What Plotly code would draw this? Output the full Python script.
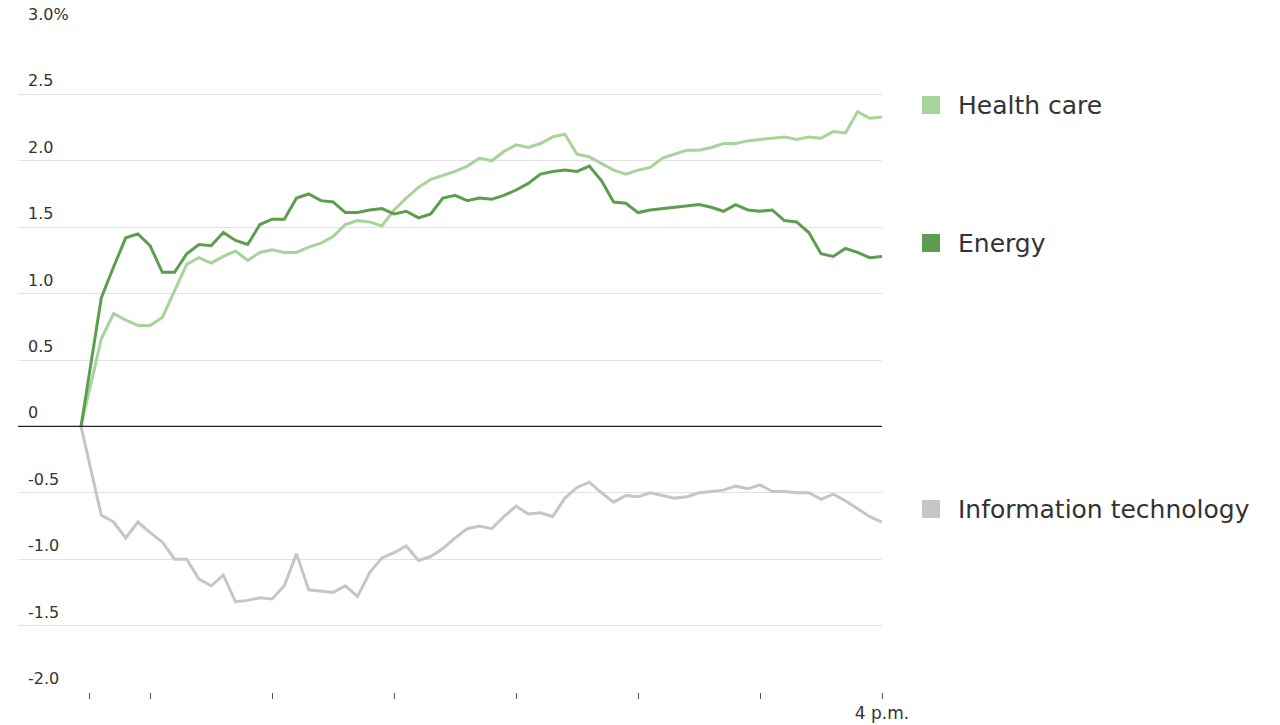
import plotly.graph_objects as go

minutes = [-4] + list(range(6, 391, 6))  # minutes after 9:30

health_care = [0, 0.66, 0.85, 0.80, 0.76, 0.76, 0.82, 1.02, 1.22, 1.27, 1.23, 1.28, 1.32, 1.25, 1.31, 1.33,
               1.31, 1.31, 1.35, 1.38, 1.43, 1.52, 1.55, 1.54, 1.51, 1.63, 1.72, 1.80, 1.86, 1.89, 1.92, 1.96,
               2.02, 2.00, 2.07, 2.12, 2.10, 2.13, 2.18, 2.20, 2.05, 2.03, 1.98, 1.93, 1.90, 1.93, 1.95, 2.02,
               2.05, 2.08, 2.08, 2.10, 2.13, 2.13, 2.15, 2.16, 2.17, 2.18, 2.16, 2.18, 2.17, 2.22, 2.21, 2.37,
               2.32, 2.33]
energy = [0, 0.97, 1.2, 1.42, 1.45, 1.36, 1.16, 1.16, 1.30, 1.37, 1.36, 1.46, 1.40, 1.37, 1.52, 1.56, 1.56,
          1.72, 1.75, 1.70, 1.69, 1.61, 1.61, 1.63, 1.64, 1.60, 1.62, 1.57, 1.60, 1.72, 1.74, 1.70, 1.72, 1.71,
          1.74, 1.78, 1.83, 1.90, 1.92, 1.93, 1.92, 1.96, 1.85, 1.69, 1.68, 1.61, 1.63, 1.64, 1.65, 1.66, 1.67,
          1.65, 1.62, 1.67, 1.63, 1.62, 1.63, 1.55, 1.54, 1.46, 1.30, 1.28, 1.34, 1.31, 1.27, 1.28]
info_tech = [0, -0.67, -0.72, -0.84, -0.72, -0.80, -0.87, -1.00, -1.00, -1.15, -1.20, -1.12, -1.32, -1.31,
             -1.29, -1.30, -1.20, -0.96, -1.23, -1.24, -1.25, -1.20, -1.28, -1.10, -0.99, -0.95, -0.90, -1.01,
             -0.98, -0.92, -0.84, -0.77, -0.75, -0.77, -0.68, -0.60, -0.66, -0.65, -0.68, -0.54, -0.46, -0.42,
             -0.50, -0.57, -0.52, -0.53, -0.50, -0.52, -0.54, -0.53, -0.50, -0.49, -0.48, -0.45, -0.47, -0.44,
             -0.49, -0.49, -0.50, -0.50, -0.55, -0.51, -0.56, -0.62, -0.68, -0.72]

series = [("Health care", health_care, "#a6d49a"),
          ("Energy", energy, "#5c9e4e"),
          ("Information technology", info_tech, "#c6c6c6")]

y_ticks = [3.0, 2.5, 2.0, 1.5, 1.0, 0.5, 0, -0.5, -1.0, -1.5, -2.0]
y_labels = ["3.0%", "2.5", "2.0", "1.5", "1.0", "0.5", "0", "-0.5", "-1.0", "-1.5", "-2.0"]
x_ticks = [0, 30, 90, 150, 210, 270, 330, 390]
x_labels = ["", "", "", "", "", "", "", "4 p.m."]

FONT = "DejaVu Sans"
L, R, T, B = 10, 406, 20, 41
PW, PH = 1280 - L - R, 725 - T - B

fig = go.Figure()
for name, vals, color in series:
    fig.add_trace(go.Scatter(x=minutes, y=vals, mode="lines", name=name,
                             line=dict(color=color, width=3), hoverinfo="skip"))

ann = []
for v, t in zip(y_ticks, y_labels):
    ann.append(dict(x=0, xref="paper", y=v, yref="y", text=t, showarrow=False,
                    xanchor="left", yanchor="bottom", yshift=2, xshift=8,
                    font=dict(family=FONT, size=16, color="#333")))
shapes = [dict(type="line", xref="paper", yref="y", x0=0, x1=1, y0=0, y1=0,
               line=dict(color="#222", width=1.3))]
legend_py = {"Health care": 97, "Energy": 235, "Information technology": 501}
for name, vals, color in series:
    yp = 1 - (legend_py[name] - T) / PH
    ann.append(dict(x=(948 - L) / PW, xref="paper", y=yp, yref="paper", text=name, showarrow=False,
                    xanchor="left", yanchor="middle", font=dict(family=FONT, size=25, color="#333")))
    shapes.append(dict(type="rect", xref="paper", yref="paper",
                       x0=(914 - L) / PW, x1=(932 - L) / PW,
                       y0=yp - 9 / PH, y1=yp + 9 / PH, fillcolor=color, line=dict(width=0)))

fig.update_layout(
    width=1280, height=725, plot_bgcolor="white", paper_bgcolor="white",
    margin=dict(l=L, r=R, t=T, b=B), showlegend=False,
    annotations=ann, shapes=shapes,
    xaxis=dict(range=[-35, 390], tickvals=x_ticks, ticktext=x_labels, ticks="outside",
               ticklen=6, tickcolor="#555", showgrid=False, zeroline=False,
               tickfont=dict(family=FONT, size=17, color="#333")),
    yaxis=dict(range=[-2, 3], tickvals=y_ticks, showticklabels=False, gridcolor="#e2e2e2",
               gridwidth=1, zeroline=False),
)
fig.write_html("out.html")
